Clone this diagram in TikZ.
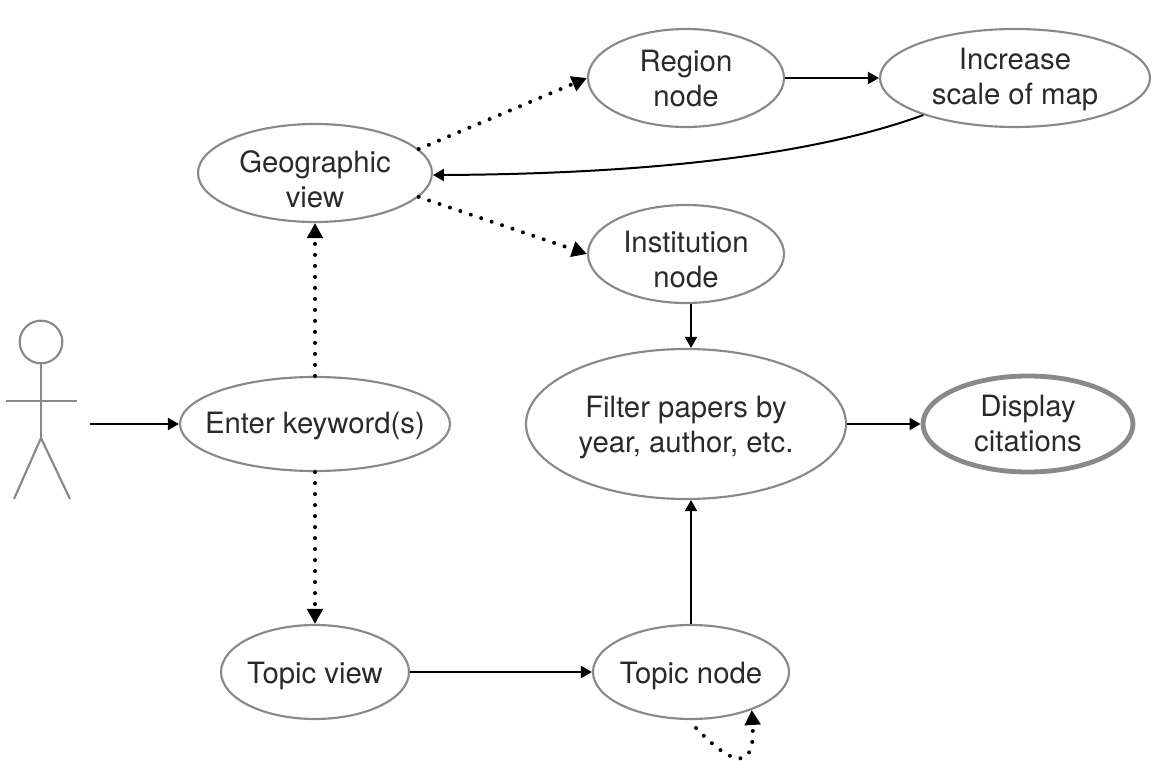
\documentclass[tikz,border=0pt]{standalone}
\usepackage{fontspec}
\setmainfont{TeX Gyre Heros}
\usetikzlibrary{arrows.meta,shapes.geometric}
\definecolor{edgegrey}{HTML}{87898C}
\definecolor{inktext}{HTML}{2A2A2A}
% text that does not widen its ellipse; #1 = shift in px (positive = down)
\newcommand{\otext}[2]{\makebox[0pt]{\raisebox{\dimexpr-0.75pt*#1\relax}[0pt][0pt]{\begin{tabular}[c]{@{}c@{}}#2\end{tabular}}}}
\tikzset{
  px/.style={x=0.75pt,y=-0.75pt},
  oval/.style={ellipse,draw=edgegrey,line width=1.6pt,inner sep=0pt,text=inktext,
    font=\fontsize{22}{26.3}\selectfont},
  final/.style={oval,line width=3.6pt},
  actorline/.style={draw=edgegrey,line width=1.6pt},
  solidarrow/.style={draw=black,line width=1.5pt,-{Triangle[length=8.25pt,width=9pt]}},
  dotarrow/.style={draw=black,line width=3pt,line cap=round,dash pattern=on 0pt off 8.25pt,
    -{Triangle[length=11.25pt,width=11.5pt,line cap=butt]}},
}
\begin{document}
\begin{tikzpicture}[px]
\useasboundingbox (0,0) rectangle (1167,780);
\node[oval,minimum width=147pt,minimum height=73.5pt] (region) at (686,78) {\otext{11}{Region\\node}};
\node[oval,minimum width=202.5pt,minimum height=73.5pt] (scale) at (1015,78) {\otext{9}{Increase\\scale of map}};
\node[oval,minimum width=175.5pt,minimum height=73.5pt] (geo) at (315,173) {\otext{17}{Geographic\\view}};
\node[oval,minimum width=147pt,minimum height=73.5pt] (inst) at (686,254) {\otext{16}{Institution\\node}};
\node[oval,minimum width=202.5pt,minimum height=70.5pt] (key) at (315,424) {\otext{9}{Enter keyword(s)}};
\node[oval,minimum width=240pt,minimum height=112.5pt] (filter) at (686,424) {\otext{11}{Filter papers by\\year, author, etc.}};
\node[final,minimum width=157.5pt,minimum height=72pt] (cite) at (1028,424) {\otext{10}{Display\\citations}};
\node[oval,minimum width=141pt,minimum height=70.5pt] (tview) at (315,672) {\otext{11}{Topic view}};
\node[oval,minimum width=147pt,minimum height=70.5pt] (tnode) at (691,672) {\otext{11}{Topic node}};
% actor
\node[circle,draw=edgegrey,line width=1.6pt,minimum size=32pt,inner sep=0pt] (head) at (41,342) {};
\coordinate (hip) at (41,438);
\coordinate (armL) at (6,401);
\coordinate (armR) at (77,401);
\coordinate (legL) at (14,499);
\coordinate (legR) at (70,499);
\coordinate (actorout) at (90,424);
\coordinate (loopstart) at (696,728);
\draw[actorline] (head.south) -- (hip);
\draw[actorline] (armL) -- (armR);
\draw[actorline] (legL) -- (hip) -- (legR);
% connectors
\draw[solidarrow] (actorout) -- (key.west);
\draw[dotarrow] (key.north) -- (geo.south);
\draw[dotarrow] (key.south) -- (tview.north);
\draw[dotarrow] (geo.13) -- (region.west);
\draw[dotarrow] (geo.-13) -- (inst.west);
\draw[solidarrow] (region.east) -- (scale.west);
\draw[solidarrow] (scale.-158) .. controls (800,160) and (620,174) .. (geo.-1);
\draw[solidarrow] (inst.south -| tnode.north) -- (filter.north -| tnode.north);
\draw[solidarrow] (tnode.north) -- (filter.south -| tnode.north);
\draw[solidarrow] (tview.east) -- (tnode.west);
\draw[solidarrow] (filter.east) -- (cite.west);
\draw[dotarrow] (loopstart) .. controls (722,755) and (756,782) .. (tnode.-32);
\end{tikzpicture}
\end{document}
